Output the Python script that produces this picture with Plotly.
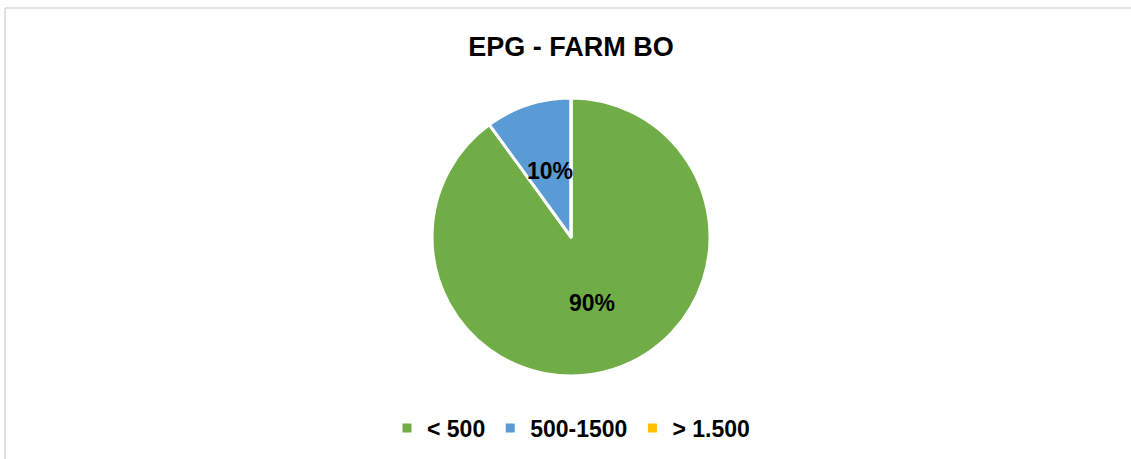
import math
import plotly.graph_objects as go

categories = ["< 500", "500-1500", "> 1.500"]
values = [90, 10, 0]
colors = ["#70AD47", "#5B9BD5", "#FFC000"]

W, H = 1131, 459
total = sum(values)
labels_text = [f"{round(v / total * 100)}%" if v > 0 else "" for v in values]

cx, cy, r = 571, 237, 139

fig = go.Figure(go.Pie(
    labels=categories,
    values=values,
    textinfo="none",
    sort=False,
    direction="clockwise",
    rotation=0,
    marker=dict(colors=colors, line=dict(color="white", width=3)),
    domain=dict(x=[(cx - r) / W, (cx + r) / W], y=[1 - (cy + r) / H, 1 - (cy - r) / H]),
    hoverinfo="label+percent",
))

# data labels placed at half radius on each slice's bisector (Excel style)
annotations = []
cum = 0.0
for v, t in zip(values, labels_text):
    mid = (cum + v / 2) / total * 2 * math.pi
    cum += v
    if not t:
        continue
    px = cx + 0.5 * r * math.sin(mid)
    py = cy - 0.5 * r * math.cos(mid)
    annotations.append(dict(text=f"<b>{t}</b>", x=px / W, y=1 - py / H, xref="paper", yref="paper",
                            showarrow=False, xanchor="center", yanchor="middle",
                            font=dict(family="Liberation Sans", size=23, color="black")))

fig.update_layout(
    width=W, height=H,
    margin=dict(l=0, r=0, t=0, b=0),
    paper_bgcolor="white",
    plot_bgcolor="white",
    annotations=annotations,
    title=dict(text="<b>EPG - FARM BO</b>", x=571 / W, xanchor="center", y=1 - 47 / H, yanchor="middle",
               font=dict(family="Liberation Sans", size=27, color="black")),
    legend=dict(orientation="h", x=571 / W, xanchor="center", y=1 - 428 / H, yanchor="middle",
                font=dict(family="Liberation Sans", size=23, color="black", weight="bold"),
                itemwidth=30, traceorder="normal", tracegroupgap=0),
    shapes=[
        dict(type="line", xref="paper", yref="paper", x0=5 / W, x1=1, y0=1 - 8 / H, y1=1 - 8 / H,
             line=dict(color="#D9D9D9", width=1.5)),
        dict(type="line", xref="paper", yref="paper", x0=5 / W, x1=5 / W, y0=0, y1=1 - 8 / H,
             line=dict(color="#D9D9D9", width=1.5)),
    ],
)

fig.write_html("out.html")
